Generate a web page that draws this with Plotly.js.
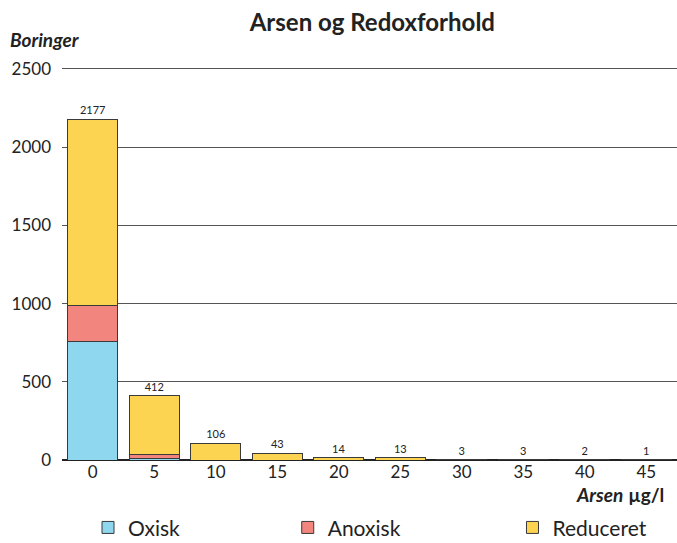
<!DOCTYPE html>
<html>
<head>
<meta charset="utf-8">
<script src="https://cdn.plot.ly/plotly-3.0.1.min.js"></script>
<style>
  html, body { margin: 0; padding: 0; background: #fff; }
  #chart { width: 677px; height: 543px; }
</style>
</head>
<body>
<div id="chart"></div>
<script>
// Arsen classes (µg/l) and number of boreholes per redox state
const categories = ['0', '5', '10', '15', '20', '25', '30', '35', '40', '45'];
const oxisk     = [755, 12, 0, 0, 0, 0, 0, 0, 0, 0];
const anoxisk   = [230, 25, 0, 0, 0, 0, 0, 0, 0, 0];
const reduceret = [1192, 375, 106, 43, 14, 13, 3, 3, 2, 1];

const totals = categories.map((_, i) => oxisk[i] + anoxisk[i] + reduceret[i]);

const edge = {color: '#3a3a3a', width: 1};

const traces = [
  {
    type: 'bar', name: 'Oxisk', x: categories, y: oxisk,
    marker: {color: '#8fd6ef', line: edge}, legend: 'legend',
    hoverinfo: 'skip'
  },
  {
    type: 'bar', name: 'Anoxisk', x: categories, y: anoxisk,
    marker: {color: '#f2867f', line: edge}, legend: 'legend2',
    hoverinfo: 'skip'
  },
  {
    type: 'bar', name: 'Reduceret', x: categories, y: reduceret,
    marker: {color: '#fdd352', line: edge}, legend: 'legend3',
    text: totals.map(String), textposition: 'outside',
    textfont: {family: 'Lato, sans-serif', size: 11, color: '#222'},
    cliponaxis: false, hoverinfo: 'skip'
  }
];

const legendBase = {
  orientation: 'h', xref: 'container', yref: 'container',
  xanchor: 'left', yanchor: 'middle', y: 0.028,
  font: {family: 'Lato, sans-serif', size: 21, color: '#222'},
  bgcolor: 'rgba(0,0,0,0)'
};

const layout = {
  width: 677, height: 543,
  margin: {l: 62, r: 0, t: 67, b: 83},
  paper_bgcolor: '#fff', plot_bgcolor: '#fff',
  barmode: 'stack', bargap: 0.18,
  font: {family: 'Lato, sans-serif', color: '#222'},
  title: {
    text: '<b>Arsen og Redoxforhold</b>',
    x: 0.55, xanchor: 'center', y: 0.958, yanchor: 'middle',
    font: {family: 'Lato, sans-serif', size: 24, color: '#222'}
  },
  xaxis: {
    type: 'category', range: [-0.5, 9.5],
    showgrid: false, showline: false, zeroline: false, ticks: '',
    tickfont: {size: 17, color: '#222'}
  },
  yaxis: {
    range: [0, 2512], tickvals: [0, 500, 1000, 1500, 2000, 2500],
    showgrid: true, gridcolor: '#555', gridwidth: 1,
    zeroline: true, zerolinecolor: '#222', zerolinewidth: 1.5,
    showline: false, ticks: '', ticklabelstandoff: 10,
    tickfont: {size: 17, color: '#222'}
  },
  annotations: [
    {
      text: '<b><i>Boringer</i></b>', xref: 'paper', yref: 'paper',
      x: -0.087, y: 1.07, xanchor: 'left', yanchor: 'middle', showarrow: false,
      font: {family: 'Lato, sans-serif', size: 19, color: '#222'}
    },
    {
      text: '<b><i>Arsen</i></b> <b>µg/l</b>', xref: 'paper', yref: 'paper',
      x: 0.982, y: -0.088, xanchor: 'right', yanchor: 'middle', showarrow: false,
      font: {family: 'Lato, sans-serif', size: 19, color: '#222'}
    }
  ],
  legend:  Object.assign({}, legendBase, {x: 0.13}),
  legend2: Object.assign({}, legendBase, {x: 0.425}),
  legend3: Object.assign({}, legendBase, {x: 0.757}),
  showlegend: true
};

Plotly.newPlot('chart', traces, layout, {displayModeBar: false, staticPlot: true});
</script>
</body>
</html>
